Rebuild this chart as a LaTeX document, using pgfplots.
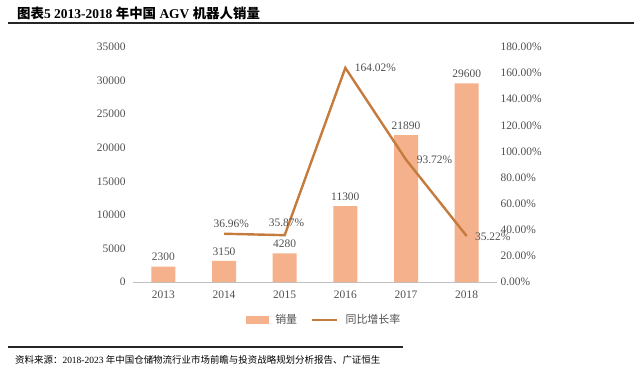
\documentclass[border=0pt]{standalone}
\usepackage{pgfplots}
\pgfplotsset{compat=1.18}
\usepackage{fontspec}
\setmainfont{Liberation Serif}
\newfontfamily\cjk{Noto Sans CJK SC}
\definecolor{barc}{RGB}{244,177,140}
\definecolor{linec}{RGB}{197,122,62}
\definecolor{txt}{RGB}{80,80,80}
\begin{document}
\begin{tikzpicture}[x=1bp,y=1bp]
\path[use as bounding box] (0,0) rectangle (640,378);
% title and rules
\node[anchor=west,inner sep=0] at (17,365) {\fontsize{13.5}{15}\selectfont\bfseries{\cjk 图表}5 2013-2018 {\cjk 年中国} AGV {\cjk 机器人销量}};
\draw[line width=2bp,black!85] (8,355) -- (634,355);
\draw[line width=2bp,black!85] (8,31) -- (403,31);
\node[anchor=west,inner sep=0] at (15,18) {\fontsize{9.5}{11}\selectfont{\cjk 资料来源：}2018-2023 {\cjk 年中国仓储物流行业市场前瞻与投资战略规划分析报告、广证恒生}};
\begin{axis}[
  at={(133bp,96bp)}, anchor=south west,
  scale only axis, width=364bp, height=235bp,
  xmin=-0.5, xmax=5.5, ymin=0, ymax=35000,
  xtick={0,1,2,3,4,5},
  xticklabels={2013,2014,2015,2016,2017,2018},
  ytick={0,5000,10000,15000,20000,25000,30000,35000},
  axis y line*=left, axis x line*=bottom,
  y axis line style={draw=none},
  x axis line style={draw=black!25, line width=0.8pt, -},
  major tick length=0pt,
  tick label style={font=\fontsize{11.5}{13}\selectfont, text=txt},
  /pgf/number format/assume math mode=true,
  scaled y ticks=false,
  yticklabel style={/pgf/number format/1000 sep={}, xshift=-4bp},
  xticklabel style={yshift=-5bp},
  clip=false,
]
\addplot[ybar, bar width=24bp, fill=barc, draw=none,
  nodes near coords, every node near coord/.append style={font=\fontsize{11.5}{13}\selectfont, text=txt, yshift=2bp},
  /pgf/number format/1000 sep={}]
coordinates {(0,2300) (1,3150) (2,4280) (3,11300) (4,21890) (5,29600)};
\end{axis}
\begin{axis}[
  at={(133bp,96bp)}, anchor=south west,
  scale only axis, width=364bp, height=235bp,
  xmin=-0.5, xmax=5.5, ymin=0, ymax=180,
  axis x line=none,
  axis y line*=right,
  y axis line style={draw=none},
  ytick={0,20,40,60,80,100,120,140,160,180},
  yticklabel={\pgfmathprintnumber[fixed,fixed zerofill,precision=2]{\tick}\%},
  yticklabel style={xshift=0bp},
  major tick length=0pt,
  tick label style={font=\fontsize{11.5}{13}\selectfont, text=txt},
  /pgf/number format/assume math mode=true,
  clip=false,
  legend style={at={(0.525,-0.162)}, anchor=center, draw=none, fill=none,
    font=\cjk\fontsize{11}{13}\selectfont, text=txt,
    /tikz/every odd column/.append style={column sep=5bp},
    /tikz/every even column/.append style={column sep=12bp}},
  legend columns=2,
]
\addlegendimage{legend image code/.code={\fill[barc] (0bp,-3.5bp) rectangle (22bp,3.5bp);}}
\addlegendentry{销量}
\addplot[linec, line width=2.4bp, mark=none, legend image code/.code={\draw[linec, line width=2.4bp] (0bp,0bp) -- (25bp,0bp);}] coordinates {(1,36.96) (2,35.87) (3,164.02) (4,93.72) (5,35.22)};
\addlegendentry{同比增长率}
\begin{scope}[every node/.style={font=\fontsize{11.5}{13}\selectfont, text=txt}]
\node[anchor=south] at (axis cs:1.12,39) {36.96\%};
\node[anchor=south] at (axis cs:2.03,39.5) {35.87\%};
\node[anchor=west] at (axis cs:3.1,164.02) {164.02\%};
\node[anchor=west] at (axis cs:4.12,93.72) {93.72\%};
\node[anchor=west] at (axis cs:5.08,34.5) {35.22\%};
\end{scope}
\end{axis}
\end{tikzpicture}
\end{document}
